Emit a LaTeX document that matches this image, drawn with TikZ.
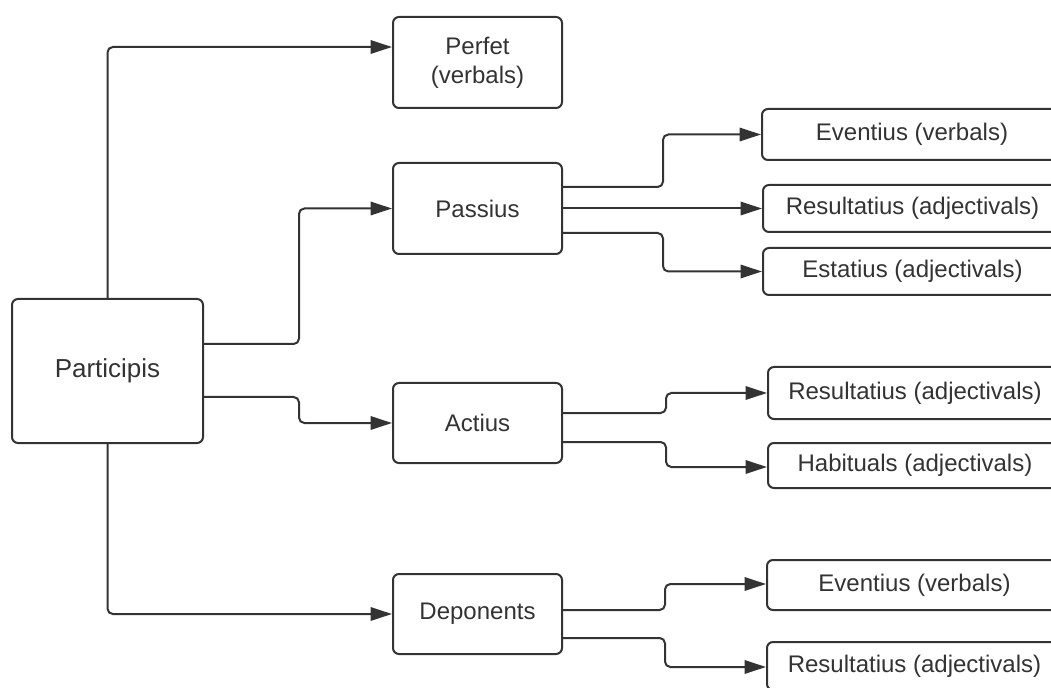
\documentclass[tikz,border=0pt]{standalone}
\usepackage{fontspec}
\setmainfont{Liberation Sans}
\usetikzlibrary{arrows.meta,calc}
\definecolor{ink}{HTML}{333333}
\begin{document}
\begin{tikzpicture}[x=0.75pt,y=-0.75pt,
  box/.style={draw=ink,line width=1.5pt,rounded corners=4.5pt,inner sep=0pt,
    text=ink,font=\fontsize{18}{22}\selectfont,align=center},
  link/.style={draw=ink,line width=1.5pt,rounded corners=4pt,
    -{Triangle[length=16pt,width=10pt]}},
  plain/.style={draw=ink,line width=1.5pt,rounded corners=4pt}]
\clip (0,0) rectangle (1051,688);
\fill[white] (0,0) rectangle (1051,688);

% main concept and its four kinds
\node[box,minimum width=143.25pt,minimum height=108pt,
  font=\fontsize{19.5}{23}\selectfont] (part) at (107.5,371) {Participis};
\node[box,minimum width=126.75pt,minimum height=68.25pt] (perf) at (477.5,62.5) {Perfet\\(verbals)};
\node[box,minimum width=126.75pt,minimum height=68.25pt] (pass) at (477.5,208.5) {Passius};
\node[box,minimum width=126.75pt,minimum height=60pt] (act) at (477.5,423) {Actius};
\node[box,minimum width=126.75pt,minimum height=60pt] (dep) at (477.5,614) {Deponents};

% readings of each kind
\node[box,minimum width=225pt,minimum height=38.25pt] (e1) at (912,134.5) {Eventius (verbals)};
\node[box,minimum width=224.25pt,minimum height=35.25pt] (r1) at (912.5,208.5) {Resultatius (adjectivals)};
\node[box,minimum width=224.25pt,minimum height=35.25pt] (s1) at (912.5,271.5) {Estatius (adjectivals)};
\node[box,minimum width=220.5pt,minimum height=39pt] (r2) at (915,393) {Resultatius (adjectivals)};
\node[box,minimum width=220.5pt,minimum height=33.75pt] (h2) at (915,465.5) {Habituals (adjectivals)};
\node[box,minimum width=221.25pt,minimum height=37.5pt] (e3) at (914.5,585) {Eventius (verbals)};
\node[box,minimum width=221.25pt,minimum height=36pt] (r3) at (914.5,666) {Resultatius (adjectivals)};

% Participis to its kinds
\draw[link] (part.north) |- ($(perf.west)+(0,-15.5)$);
\draw[link] ($(part.east)+(0,-27)$) -- ++(95,0) |- (pass.west);
\draw[link] ($(part.east)+(0,26)$) -- ++(95,0) |- (act.west);
\draw[link] (part.south) |- (dep.west);

% Passius
\draw[link] ($(pass.east)+(0,-21.5)$) -- ++(100,0) |- (e1.west);
\draw[link] (pass.east) -- (r1.west);
\draw[link] ($(pass.east)+(0,24.5)$) -- ++(100,0) |- (s1.west);

% Actius
\draw[link] ($(act.east)+(0,-10)$) -- ++(103,0) |- (r2.west);
\draw[link] ($(act.east)+(0,19)$) -- ++(103,0) |- ($(h2.west)+(0,1.5)$);

% Deponents
\draw[link] ($(dep.east)+(0,-4)$) -- ++(102,0) |- ($(e3.west)+(0,-1)$);
\draw[link] ($(dep.east)+(0,24)$) -- ++(102,0) |- ($(r3.west)+(0,1)$);
\end{tikzpicture}
\end{document}
